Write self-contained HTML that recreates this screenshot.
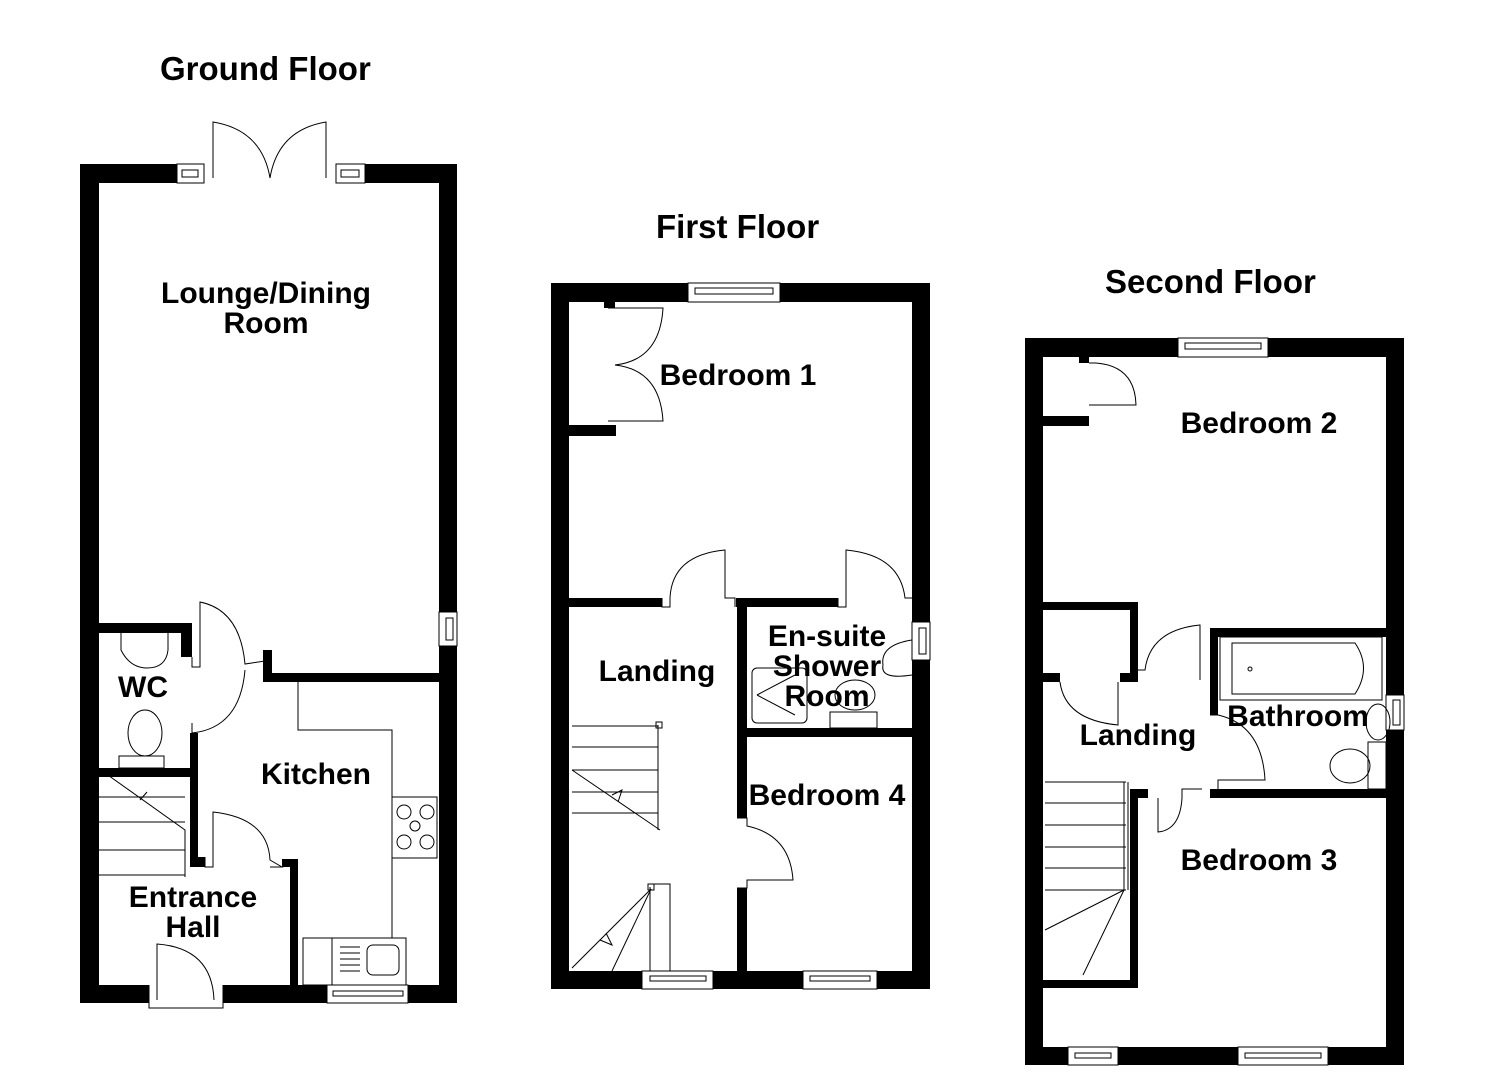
<!DOCTYPE html>
<html><head><meta charset="utf-8"><style>
html,body{margin:0;padding:0;background:#fff}
svg{display:block}
text{font-family:"Liberation Sans",Arial,sans-serif;font-weight:bold;fill:#000}
</style></head><body>
<svg width="1485" height="1080" viewBox="0 0 1485 1080" xmlns="http://www.w3.org/2000/svg">
<g fill="#000">
<rect x="80" y="164" width="97" height="19"/>
<rect x="365" y="164" width="92" height="19"/>
<rect x="80" y="164" width="19" height="839"/>
<rect x="439" y="164" width="18" height="448"/>
<rect x="439" y="646" width="18" height="357"/>
<rect x="80" y="985" width="69" height="18"/>
<rect x="223" y="985" width="104" height="18"/>
<rect x="408" y="985" width="49" height="18"/>
<rect x="263" y="673" width="176" height="9"/>
<rect x="263" y="650" width="9" height="32"/>
<rect x="98" y="623" width="93" height="10"/>
<rect x="181" y="623" width="11" height="34"/>
<rect x="190" y="733" width="8" height="134"/>
<rect x="190" y="857" width="15" height="10"/>
<rect x="98" y="768" width="92" height="9"/>
<rect x="282" y="859" width="16" height="8"/>
<rect x="290" y="859" width="8" height="126"/>
<rect x="551" y="283" width="137" height="19"/>
<rect x="780" y="283" width="150" height="19"/>
<rect x="551" y="283" width="18" height="706"/>
<rect x="912" y="283" width="18" height="339"/>
<rect x="912" y="660" width="18" height="329"/>
<rect x="551" y="971" width="91" height="18"/>
<rect x="713" y="971" width="90" height="18"/>
<rect x="877" y="971" width="53" height="18"/>
<rect x="569" y="598" width="93" height="9"/>
<rect x="736" y="598" width="102" height="9"/>
<rect x="737" y="598" width="10" height="220"/>
<rect x="737" y="888" width="10" height="83"/>
<rect x="737" y="728" width="175" height="9"/>
<rect x="569" y="425" width="47" height="11"/>
<rect x="604" y="302" width="11" height="6"/>
<rect x="1025" y="338" width="153" height="19"/>
<rect x="1268" y="338" width="136" height="19"/>
<rect x="1025" y="338" width="18" height="727"/>
<rect x="1386" y="338" width="18" height="357"/>
<rect x="1386" y="730" width="18" height="335"/>
<rect x="1025" y="1047" width="43" height="18"/>
<rect x="1118" y="1047" width="120" height="18"/>
<rect x="1328" y="1047" width="76" height="18"/>
<rect x="1043" y="602" width="95" height="8"/>
<rect x="1130" y="602" width="8" height="80"/>
<rect x="1120" y="673" width="18" height="9"/>
<rect x="1043" y="673" width="17" height="9"/>
<rect x="1210" y="628" width="176" height="9"/>
<rect x="1210" y="628" width="8" height="87"/>
<rect x="1210" y="789" width="176" height="9"/>
<rect x="1130" y="789" width="18" height="9"/>
<rect x="1130" y="789" width="8" height="199"/>
<rect x="1043" y="980" width="95" height="8"/>
<rect x="1043" y="416" width="46" height="10"/>
<rect x="1079" y="357" width="10" height="6"/>
</g>
<g fill="none" stroke="#000" stroke-width="1">
<rect x="177" y="164" width="27" height="19"/><rect x="182" y="170" width="16" height="7"/>
<rect x="336" y="164" width="29" height="19"/><rect x="341" y="170" width="18" height="7"/>
<path d="M213 178V122Q262 130 270 178M326 178V122Q278 130 270 178"/>
<rect x="439" y="612" width="18" height="34"/><rect x="446" y="618" width="7" height="22"/>
<rect x="327" y="985" width="81" height="18"/><rect x="333" y="991" width="70" height="5"/>
<path d="M149 985V1008H223V985M157 1000V944Q212 948 214 1000"/>
<path d="M192 657V667H200V602Q240 610 245 664L272 660M192 723V733Q240 728 245 670"/>
<path d="M205 857V867H213V812Q268 818 270 860L282 867H270"/>
<path d="M298 682V730H392V938M392 797H437V858H392"/>
<circle cx="404" cy="812" r="7"/><circle cx="427" cy="812" r="7"/><circle cx="415" cy="826" r="5"/><circle cx="404" cy="842" r="7"/><circle cx="427" cy="842" r="7"/>
<rect x="303" y="938" width="103" height="47"/><rect x="332" y="938" width="74" height="47"/>
<rect x="367" y="945" width="32" height="30" rx="6"/>
<path d="M340 947H360M340 953H360M340 959H360M340 965H360M340 971H360"/>
<path d="M121 633V650Q130 668 147 668Q166 668 168 650V633"/>
<ellipse cx="145" cy="733" rx="17" ry="23"/><rect x="119" y="756" width="45" height="12"/>
<path d="M98 797H185M98 822H185M98 850H185M98 875H185M98 768L185 830V877M140 800L147 792"/>
<rect x="688" y="283" width="92" height="19"/><rect x="695" y="288" width="78" height="6"/>
<rect x="912" y="622" width="18" height="38"/><rect x="919" y="628" width="7" height="26"/>
<rect x="642" y="971" width="71" height="18"/><rect x="650" y="976" width="56" height="5"/>
<rect x="803" y="971" width="74" height="18"/><rect x="810" y="976" width="60" height="5"/>
<path d="M608 308H663Q660 360 615 365Q660 370 663 421H608"/>
<path d="M662 598V607H670V598Q672 555 725 550V598H735V607"/>
<path d="M838 598V607H846V550Q900 555 905 598H912"/>
<path d="M737 818H747V826Q790 835 793 880H747V888H737"/>
<rect x="752" y="668" width="55" height="55" rx="5"/><path d="M757 695L795 675M757 695L795 715"/>
<ellipse cx="855" cy="695" rx="20" ry="15"/><rect x="830" y="712" width="47" height="16"/>
<path d="M912 640Q880 645 883 665Q880 680 912 675"/>
<path d="M572 726H658M572 747H658M572 770H658M572 792H658M572 813H658M658 725V830M572 770L660 830M612 795L622 790L618 802"/>
<rect x="656" y="722" width="6" height="6"/>
<path d="M650 887V971M651 889L572 968M651 889L612 971M606 933L612 945L600 940"/>
<rect x="648" y="884" width="6" height="6"/><path d="M650 884H670V971"/>
<rect x="1178" y="338" width="90" height="19"/><rect x="1185" y="343" width="76" height="6"/>
<rect x="1386" y="695" width="18" height="35"/><rect x="1393" y="700" width="7" height="25"/>
<rect x="1068" y="1047" width="50" height="18"/><rect x="1075" y="1053" width="36" height="5"/>
<rect x="1238" y="1047" width="90" height="18"/><rect x="1245" y="1053" width="76" height="5"/>
<path d="M1089 363H1096Q1135 366 1136 405H1089"/>
<path d="M1060 682Q1065 720 1118 725V682"/>
<path d="M1138 670H1145Q1150 630 1200 625V680"/>
<path d="M1210 715H1218Q1262 725 1265 780H1218V789"/>
<path d="M1202 789H1182V798Q1180 830 1158 832V798"/>
<rect x="1220" y="637" width="162" height="63"/>
<path d="M1232 643H1355Q1372 668 1355 694H1232Z"/>
<circle cx="1250" cy="669" r="2"/>
<ellipse cx="1378" cy="722" rx="12" ry="18"/>
<ellipse cx="1350" cy="766" rx="20" ry="17"/><rect x="1368" y="742" width="18" height="47"/>
<path d="M1045 782H1126M1045 803H1126M1045 825H1126M1045 847H1126M1045 868H1126M1045 890H1126M1124 782V890M1128 782V890M1124 890L1045 930M1124 890L1083 975"/>
</g>
<g font-size="33"><text x="160" y="80">Ground Floor</text><text x="656" y="238">First Floor</text><text x="1105" y="293">Second Floor</text></g>
<g font-size="30" text-anchor="middle">
<text x="266" y="303">Lounge/Dining</text><text x="266" y="333">Room</text>
<text x="143" y="697">WC</text>
<text x="316" y="784">Kitchen</text>
<text x="193" y="907">Entrance</text><text x="193" y="937">Hall</text>
<text x="738" y="385">Bedroom 1</text>
<text x="657" y="681">Landing</text>
<text x="827" y="646">En-suite</text><text x="827" y="676">Shower</text><text x="827" y="706">Room</text>
<text x="827" y="805">Bedroom 4</text>
<text x="1259" y="433">Bedroom 2</text>
<text x="1138" y="745">Landing</text>
<text x="1298" y="726">Bathroom</text>
<text x="1259" y="870">Bedroom 3</text>
</g>
</svg>
</body></html>
